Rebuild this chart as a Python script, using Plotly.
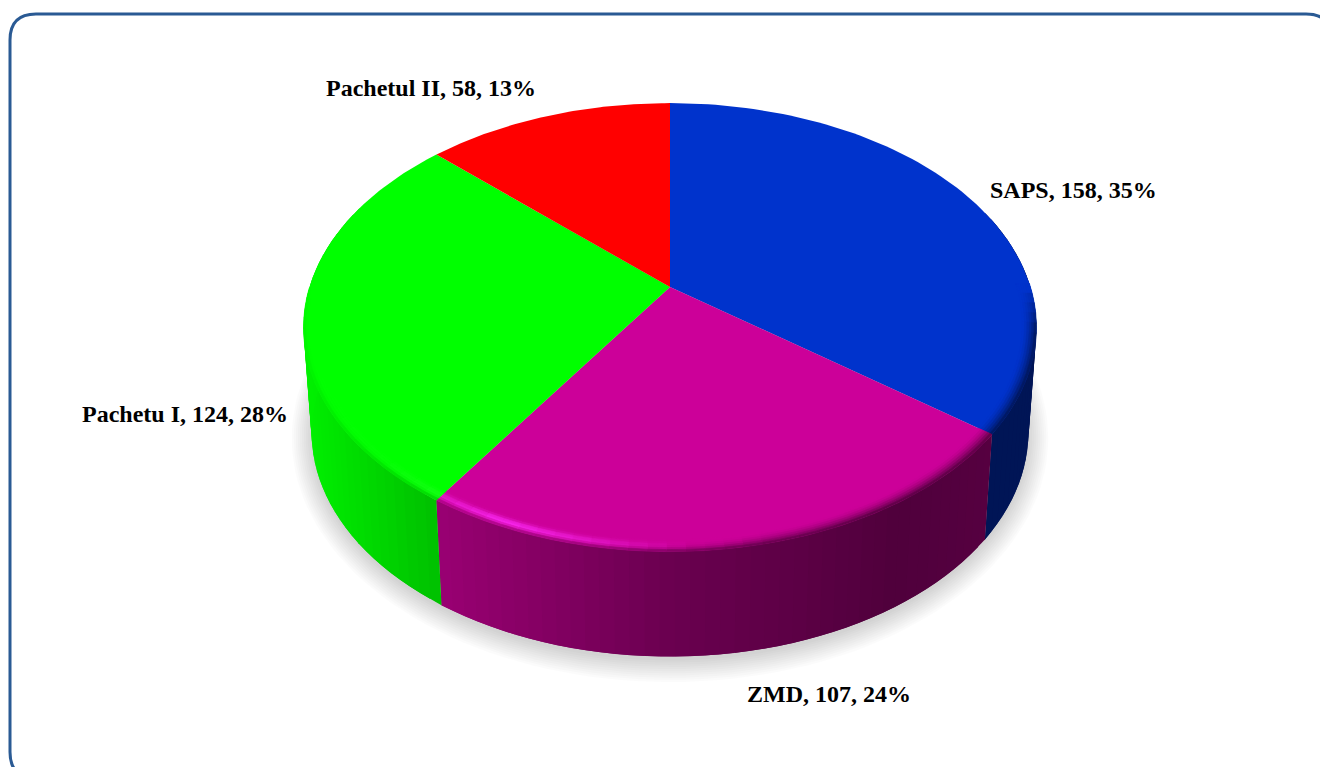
import numpy as np
import plotly.graph_objects as go

# --- data ---
names = ["SAPS", "ZMD", "Pachetu I", "Pachetul II"]
values = [158, 107, 124, 58]
percents = [35, 24, 28, 13]

# --- styling ---
top_colors = [(0, 51, 204), (204, 0, 153), (0, 255, 0), (255, 0, 0)]
label_xy = [(1073, 190), (829, 694), (185, 414), (431, 88)]
CX, CY, A, B, K = 670.0, 287.0, 360.5, 217.0, 0.18
BOT_SCALE, BOT_DY = 0.978, 105.0
shade_x = [303, 437, 670, 800, 900, 990, 1040]
shade_f = [0.94, 0.75, 0.52, 0.45, 0.39, 0.42, 0.42]


def top_pt(r, th):
    u, v = r * np.sin(th), r * np.cos(th)
    d = 1 + K * v
    return CX + A * u / d, CY - B * v / d


def bot_pt(th):
    x, y = top_pt(1.0, th)
    return CX + (x - CX) * BOT_SCALE, y + BOT_DY


def rgb(c):
    c = [int(round(min(255, max(0, q)))) for q in c]
    return f"rgb({c[0]},{c[1]},{c[2]})"


def poly(x, y, fill, lw=0.8, line=None):
    return go.Scatter(x=list(x), y=list(y), mode="lines", fill="toself", fillcolor=fill,
                      line=dict(color=line or fill, width=lw), hoverinfo="skip", showlegend=False)


fig = go.Figure()

# slice angles follow the values, clockwise from 12 o'clock
total = sum(values)
edges = 2 * np.pi * np.concatenate([[0], np.cumsum(values)]) / total

# soft shadow beneath the pie
full = np.linspace(0, 2 * np.pi, 181)
for grow in np.linspace(20, 0, 11):
    bx, by = bot_pt(full)
    sx = CX + (bx - CX) * (1 + grow / 360)
    mid = by.mean() + 4
    sy = mid + (by - by.mean()) * (1 + grow / 228)
    fig.add_trace(poly(sx, sy, "rgba(0,0,0,0.016)", lw=0))


def side_color(base, x):
    return np.array(base) * np.interp(x, shade_x, shade_f)


# side wall, in vertical strips; each strip overlaps the next so no seams show
for i, base in enumerate(top_colors):
    n = max(2, int((edges[i + 1] - edges[i]) / np.radians(2)))
    ths = np.linspace(edges[i], edges[i + 1], n + 1)
    for j, (a, b) in enumerate(zip(ths[:-1], ths[1:])):
        if np.cos((a + b) / 2) > 0.35:
            continue
        b2 = ths[min(j + 2, n)]
        x1, y1 = top_pt(1.0, a)
        x2, y2 = top_pt(1.0, b2)
        x3, y3 = bot_pt(b2)
        x4, y4 = bot_pt(a)
        xm, _ = top_pt(1.0, (a + b) / 2)
        col = rgb(side_color(base, xm))
        fig.add_trace(poly([x1, x2, x3, x4, x1], [y1, y2, y3, y4, y1], col, lw=0))

# flat top faces
for i, base in enumerate(top_colors):
    ths = np.linspace(edges[i], edges[i + 1], 90)
    ax, ay = top_pt(1.0, ths)
    fig.add_trace(poly(np.r_[CX, ax, CX], np.r_[CY, ay, CY], rgb(base), lw=0))

# bevel along the front rim
R0 = 0.962
rs = np.linspace(R0, 1.0, 7)
hl_x = [303, 380, 437, 500, 600, 690, 1040]
hl_v = [0.0, 0.12, 0.45, 0.85, 0.40, 0.0, 0.0]
dk_x = [303, 600, 760, 1040]
dk_p = [7.0, 6.0, 2.0, 1.6]
for i, base in enumerate(top_colors):
    n = max(2, int((edges[i + 1] - edges[i]) / np.radians(2.5)))
    ths = np.linspace(edges[i], edges[i + 1], n + 1)
    glow = np.clip(np.array(base) * 1.35 + 45, 0, 255)
    for a, b in zip(ths[:-1], ths[1:]):
        m = (a + b) / 2
        vis = np.clip((0.0 - np.cos(m)) / 0.2, 0, 1)
        if vis <= 0:
            continue
        xm, _ = top_pt(1.0, m)
        sc = side_color(base, xm)
        for r1, r2 in zip(rs[:-1], rs[1:]):
            t = ((r1 + r2) / 2 - R0) / (1 - R0)
            blend = vis * t ** np.interp(xm, dk_x, dk_p)
            hl = vis * np.interp(xm, hl_x, hl_v) * np.exp(-((t - 0.55) / 0.28) ** 2)
            col = np.array(base) * (1 - blend) + sc * blend
            col = col * (1 - hl) + glow * hl
            xa, ya = top_pt(r1, a)
            xb, yb = top_pt(r1, b)
            xc, yc = top_pt(r2, b)
            xd, yd = top_pt(r2, a)
            fig.add_trace(poly([xa, xb, xc, xd, xa], [ya, yb, yc, yd, ya], rgb(col), lw=0.6))

# data labels
annotations = [
    dict(x=p[0], y=p[1], xref="x", yref="y", showarrow=False, xanchor="center", yanchor="middle",
         text=f"<b>{nm}, {v}, {pc}%</b>",
         font=dict(family="Liberation Serif", size=24, color="#000000"))
    for nm, v, pc, p in zip(names, values, percents, label_xy)
]

# rounded frame running off the right and bottom edges
L, T, R, Bt, C = 10, 14, 1332, 778, 26
frame = (f"M {L+C},{T} L {R-C},{T} Q {R},{T} {R},{T+C} L {R},{Bt-C} Q {R},{Bt} {R-C},{Bt} "
         f"L {L+C},{Bt} Q {L},{Bt} {L},{Bt-C} L {L},{T+C} Q {L},{T} {L+C},{T} Z")

fig.update_layout(
    width=1320, height=767, margin=dict(l=0, r=0, t=0, b=0),
    paper_bgcolor="#ffffff", plot_bgcolor="#ffffff", showlegend=False,
    xaxis=dict(range=[0, 1320], visible=False, fixedrange=True),
    yaxis=dict(range=[767, 0], visible=False, fixedrange=True),
    annotations=annotations,
    shapes=[dict(type="path", path=frame, xref="x", yref="y",
                 line=dict(color="#2a5a94", width=3), layer="above")],
)

fig.write_html("out.html", config={"displayModeBar": False},
               post_script="document.body.style.margin='0';document.body.style.overflow='hidden';")
